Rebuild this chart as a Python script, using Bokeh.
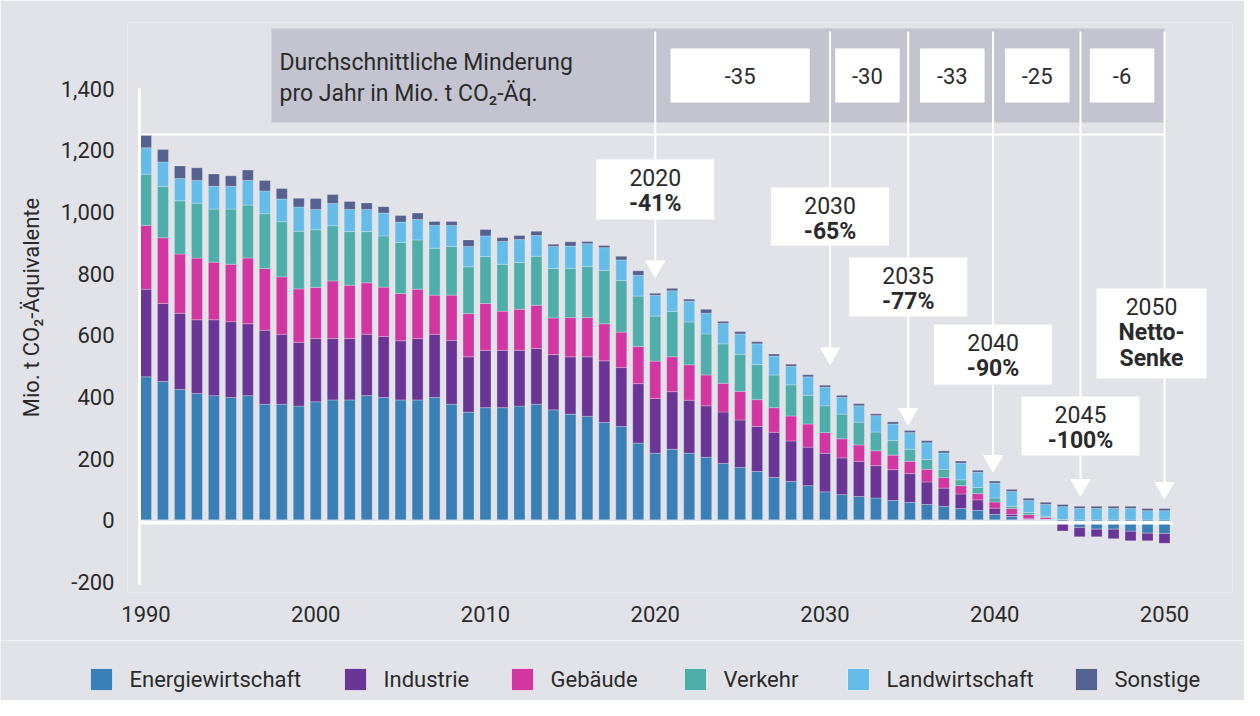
from bokeh.plotting import figure
from bokeh.layouts import column
from bokeh.models import Range1d, NumeralTickFormatter, FixedTicker, ColumnDataSource
from bokeh.embed import file_html
from bokeh.resources import INLINE
from bokeh.core.properties import value

# ---------------- data ----------------
years = list(range(1990, 2051))
energiewirtschaft = [465, 450, 424, 411, 404, 398, 404, 376, 376, 370, 384, 390, 390, 404, 398, 390, 390,
                     398, 376, 350, 365, 365, 370, 376, 358, 344, 337, 317, 304, 250,
                     217, 230, 217, 204, 184, 171, 158, 139, 126, 112, 92,
                     83, 77, 72, 64, 58, 51, 45, 38, 32, 19,
                     12, 3, 3, -5, -24, -29, -29, -36, -42, -43]
industrie = [284, 253, 247, 239, 246, 246, 233, 240, 227, 207, 205, 199, 199, 199, 198, 192, 199,
             205, 207, 180, 186, 186, 181, 181, 179, 186, 193, 200, 191, 193,
             178, 187, 172, 167, 167, 154, 146, 146, 131, 125, 125,
             119, 114, 105, 100, 93, 73, 59, 47, 34, 20,
             7, 2, 0, -30, -30, -25, -31, -31, -25, -32]
gebaeude = [207, 213, 192, 200, 187, 186, 213, 200, 186, 173, 166, 187, 173, 167, 160, 153, 160,
            127, 147, 140, 152, 127, 133, 140, 119, 127, 127, 120, 115, 120,
            121, 113, 115, 100, 93, 93, 87, 80, 81, 75, 67,
            62, 53, 48, 47, 40, 41, 34, 27, 20, 20,
            19, 13, 6, 0, 0, 0, 0, 0, 0, 0]
verkehr = [166, 166, 173, 178, 172, 179, 172, 178, 179, 187, 187, 179, 174, 166, 166, 166, 160,
           152, 158, 152, 152, 152, 152, 159, 160, 160, 166, 173, 167, 164,
           146, 147, 139, 133, 128, 120, 114, 106, 101, 93, 87,
           80, 74, 61, 47, 39, 32, 27, 19, 20, 13,
           7, 7, 4, 3, 0, 0, 0, 0, 0, 0]
landwirtschaft = [86, 80, 72, 74, 74, 74, 80, 74, 74, 79, 66, 72, 72, 72, 74, 66, 66,
                  74, 68, 66, 67, 74, 74, 67, 72, 72, 74, 74, 67, 67,
                  67, 67, 67, 67, 66, 66, 67, 61, 60, 60, 60,
                  54, 53, 53, 54, 54, 54, 53, 54, 49, 48,
                  48, 39, 38, 41, 38, 38, 38, 38, 31, 31]
sonstige = [40, 40, 41, 41, 40, 34, 34, 34, 34, 28, 35, 29, 26, 21, 21, 21, 21,
            13, 13, 21, 21, 13, 13, 14, 7, 14, 7, 7, 12, 15,
            7, 8, 7, 13, 7, 8, 7, 7, 7, 7, 7,
            7, 7, 6, 7, 7, 7, 7, 7, 7, 7,
            7, 7, 7, 7, 7, 7, 7, 7, 7, 7]

sector_names = ["Energiewirtschaft", "Industrie", "Gebäude", "Verkehr", "Landwirtschaft", "Sonstige"]
colors = ["#3a7fb5", "#6a3695", "#d236a0", "#4faeaa", "#66bce9", "#55618e"]

tick_years = [1990, 2000, 2010, 2020, 2030, 2040, 2050]
tick_values = [-200, 0, 200, 400, 600, 800, 1000, 1200, 1400]

milestone_years = [2020, 2030, 2035, 2040, 2045, 2050]
milestone_labels = ["-41%", "-65%", "-77%", "-90%", "-100%", "Netto-\nSenke"]
period_reduction = [-35, -30, -33, -25, -6]
period_start = [2020, 2030, 2035, 2040, 2045]
period_end = [2030, 2035, 2040, 2045, 2050]

# ---------------- geometry helpers (page pixels -> data) ----------------
X0, XS = 153.5, 16.975      # page x of 1990, px per year
Y0, YS = 527.7, 0.308333    # page y of 0, px per unit


def yr(px):
    return 1990 + (px - X0) / XS


def vv(py):
    return (Y0 - py) / YS


FL, FR, FT, FB = 135, 1240, 30, 600   # frame edges on the page
W, H1, H2 = 1244, 640, 60

BG = "#e2e3e9"
TXT = "#2a2a2a"
FONT = "Roboto"

p = figure(width=W, height=H1, output_backend="svg", toolbar_location=None,
           x_range=Range1d(yr(FL), yr(FR)), y_range=Range1d(vv(FB), vv(FT)),
           min_border_left=FL - 8, min_border_right=W - (FR - 8),
           min_border_top=FT - 8, min_border_bottom=H1 - (FB - 8))
p.frame_align = False
p.background_fill_color = BG
p.border_fill_color = BG
p.outline_line_color = None
p.xgrid.visible = False
p.ygrid.visible = False

# axes
p.xaxis.ticker = FixedTicker(ticks=tick_years)
p.yaxis.ticker = FixedTicker(ticks=tick_values)
p.yaxis.formatter = NumeralTickFormatter(format="0,0")
for ax in (p.xaxis[0], p.yaxis[0]):
    ax.axis_line_color = None
    ax.major_tick_line_color = None
    ax.minor_tick_line_color = None
    ax.major_label_text_font = FONT
    ax.major_label_text_font_size = "22px"
    ax.major_label_text_color = TXT
p.yaxis.major_label_standoff = 7
p.xaxis.major_label_standoff = 7
p.yaxis.axis_label = "Mio. t CO₂-Äquivalente"
p.yaxis.axis_label_text_font = FONT
p.yaxis.axis_label_text_font_size = "22px"
p.yaxis.axis_label_text_font_style = "normal"
p.yaxis.axis_label_text_color = TXT
p.yaxis.axis_label_standoff = 14

# grey header box
GB_L, GB_R, GB_T, GB_B = 279, 1172, 36, 130
p.quad(left=[yr(GB_L)], right=[yr(GB_R)], top=[vv(GB_T)], bottom=[vv(GB_B)],
       fill_color="#c4c4d0", line_color=None)
p.text(x=[yr(287)] * 2, y=[vv(70), vv(101)],
       text=["Durchschnittliche Minderung", "pro Jahr in Mio. t CO₂-Äq."],
       text_font=value(FONT), text_font_size="23px", text_color=TXT,
       text_align="left", text_baseline="middle")

# 1990 reference line
total1990 = sum(s[0] for s in [energiewirtschaft, industrie, gebaeude, verkehr, landwirtschaft, sonstige])
p.segment(x0=[yr(148)], x1=[years[-1]], y0=[total1990 + 3], y1=[total1990 + 3],
          line_color="white", line_width=2)

# vertical milestone lines
line_x = [2020, 2030.3, 2034.9, 2039.9, 2045.05, 2050]
tips_py = [285, 372, 432.5, 479.5, 503.5, 506.5]
p.segment(x0=line_x, x1=line_x, y0=[vv(39)] * 6, y1=[vv(t - 14) for t in tips_py],
          line_color="white", line_width=2)

# stacked bars
src = ColumnDataSource({
    "year": years,
    "e": [max(v, 0) for v in energiewirtschaft],
    "i": [max(v, 0) for v in industrie],
    "g": gebaeude, "v": verkehr, "l": landwirtschaft, "s": sonstige,
    "en": [min(v, 0) for v in energiewirtschaft],
    "inn": [min(v, 0) for v in industrie],
})
p.vbar_stack(["e", "i", "g", "v", "l", "s"], x="year", width=0.65, source=src,
             fill_color=colors, line_color="white", line_alpha=0.25, line_width=1)
p.vbar_stack(["en", "inn"], x="year", width=0.65, source=src,
             fill_color=colors[:2], line_color="white", line_alpha=0.25, line_width=1)

# y axis line and zero line
p.segment(x0=[yr(147)], x1=[yr(147)], y0=[1400], y1=[vv(592)], line_color="white", line_width=3)
p.segment(x0=[yr(148)], x1=[yr(1180)], y0=[vv(530.3)], y1=[vv(530.3)], line_color="white", line_width=3.5)

# arrowheads
p.scatter(x=line_x, y=[vv(t - 11) for t in tips_py], marker="inverted_triangle", size=19,
          fill_color="white", line_color="white", line_width=1)

# period value boxes
box_w = [8.2, 3.8, 3.8, 3.8, 3.8]
pc = [(a + b) / 2 for a, b in zip(period_start, period_end)]
p.quad(left=[c - w / 2 for c, w in zip(pc, box_w)], right=[c + w / 2 for c, w in zip(pc, box_w)],
       top=[vv(56)] * 5, bottom=[vv(110)] * 5, fill_color="white", line_color=None)
p.text(x=pc, y=[vv(83.5)] * 5, text=[str(v) for v in period_reduction],
       text_font=value(FONT), text_font_size="22px", text_color=TXT,
       text_align="center", text_baseline="middle")

# milestone callouts
box_cx = line_x[:5] + [yr(1159)]
box_hw = [59 / XS] * 5 + [55 / XS]
box_top = [167, 195, 265, 332, 404, 296]
box_h = [60, 58, 59, 60, 59, 90]
p.quad(left=[x - w for x, w in zip(box_cx, box_hw)], right=[x + w for x, w in zip(box_cx, box_hw)],
       top=[vv(t) for t in box_top], bottom=[vv(t + h) for t, h in zip(box_top, box_h)],
       fill_color="white", line_color=None)
p.text(x=box_cx, y=[vv(t + 18) for t in box_top], text=[str(y) for y in milestone_years],
       text_font=value(FONT), text_font_size="23px", text_color=TXT,
       text_align="center", text_baseline="middle")
bx, by, bt = [], [], []
for x, t, lab in zip(box_cx, box_top, milestone_labels):
    for k, part in enumerate(lab.split("\n")):
        bx.append(x)
        by.append(vv(t + 44 + 26 * k))
        bt.append(part)
p.text(x=bx, y=by, text=bt, text_font=value(FONT), text_font_size="23px",
       text_font_style="bold", text_color=TXT, text_align="center", text_baseline="middle")

# ---------------- legend strip (second figure, page-pixel coordinates) ----------------
TOP2 = 8 + H1
q = figure(width=W, height=H2, output_backend="svg", toolbar_location=None,
           x_range=Range1d(8, 8 + W), y_range=Range1d(TOP2 + H2, TOP2),
           x_axis_location=None, y_axis_location=None, min_border=0)
q.frame_align = False
q.background_fill_color = BG
q.border_fill_color = BG
q.outline_line_color = None
q.xgrid.visible = False
q.ygrid.visible = False
leg_x = [98, 352, 519, 692, 855, 1083]
leg_y = 687
q.rect(x=[x + 11 for x in leg_x], y=[leg_y] * 6, width=22, height=22,
       fill_color=colors, line_color="white", line_alpha=0.6, line_width=1)
q.text(x=[x + 39 for x in leg_x], y=[leg_y] * 6, text=sector_names,
       text_font=value(FONT), text_font_size="22px", text_color=TXT,
       text_align="left", text_baseline="middle")

open("out.html", "w").write(file_html(column(p, q, spacing=0), INLINE))
